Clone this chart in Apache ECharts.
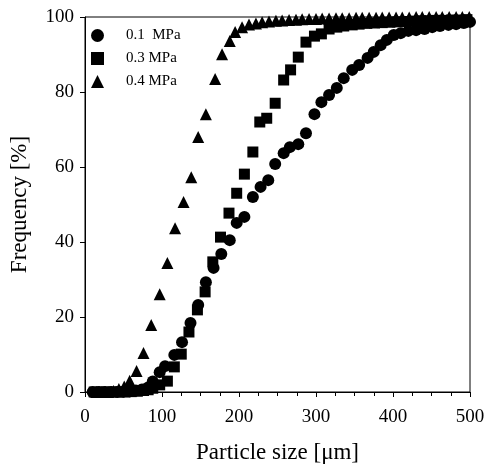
<!DOCTYPE html>
<html>
<head>
<meta charset="utf-8">
<script src="https://cdn.jsdelivr.net/npm/echarts@6/dist/echarts.min.js"></script>
<style>html,body{margin:0;padding:0;background:#fff}#c{width:489px;height:469px}</style>
</head>
<body>
<div id="c"></div>
<script>
// Particle size [µm] and cumulative frequency [%]
const seriesNames = ['0.1  MPa', '0.3 MPa', '0.4 MPa'];

const x01 = [10, 18, 26, 34, 42, 50, 58, 66, 74, 82, 88, 97, 104, 116, 126, 137, 147, 157, 167, 177, 188, 197, 207, 218, 228, 238, 247, 258, 266, 277, 287, 298, 307, 317, 327, 336, 347, 356, 367, 375, 384, 392, 401, 410, 420, 430, 441, 451, 461, 472, 482, 492, 500];
const y01 = [0, 0, 0, 0, 0, 0.1, 0.2, 0.4, 0.7, 1.2, 2.8, 5.3, 6.9, 9.9, 13.3, 18.4, 23.2, 29.3, 33.1, 36.8, 40.5, 45.1, 46.7, 52, 54.7, 56.5, 60.8, 63.7, 65.3, 66.1, 69, 74.1, 77.3, 79.2, 81.1, 83.7, 85.9, 87.2, 89.1, 90.7, 92.5, 93.9, 95.2, 95.7, 96.3, 96.5, 96.8, 97.3, 97.6, 97.9, 98.1, 98.4, 98.7];

const x03 = [12, 20, 28, 36, 44, 52, 60, 68, 76, 82, 88, 97, 107, 116, 125, 135, 146, 156, 166, 176, 187, 197, 207, 218, 227, 236, 247, 258, 267, 277, 287, 298, 307, 317, 327, 336, 347, 356, 366, 376, 386, 396, 406, 416, 426, 436, 446, 456, 466, 476, 486, 496];
const y03 = [0, 0, 0, 0, 0, 0, 0.1, 0.2, 0.4, 0.6, 1, 1.9, 2.9, 6.7, 10.1, 16, 21.9, 26.7, 34.7, 41.3, 47.7, 53, 58.1, 64, 72, 73, 77, 83.2, 85.9, 89.3, 93.3, 94.9, 95.5, 96.8, 97.3, 97.6, 97.9, 98.1, 98.3, 98.4, 98.5, 98.6, 98.7, 98.8, 98.9, 99, 99, 99.1, 99.1, 99.2, 99.2, 99.3];

const x04 = [15, 22, 30, 37, 44, 51, 58, 67, 76, 86, 97, 107, 117, 128, 138, 147, 157, 169, 178, 188, 195, 204, 213, 222, 230, 239, 248, 256, 265, 274, 282, 291, 300, 308, 317, 326, 334, 343, 352, 360, 369, 378, 386, 395, 404, 412, 421, 430, 438, 447, 456, 464, 473, 482, 490, 499];
const y04 = [0, 0, 0, 0.3, 0.8, 1.5, 3, 5.6, 10.4, 17.9, 26.1, 34.4, 43.7, 50.7, 57.3, 68, 74.1, 83.5, 90.1, 93.6, 96, 97.3, 98, 98.3, 98.6, 98.8, 99, 99.1, 99.2, 99.3, 99.4, 99.5, 99.5, 99.6, 99.6, 99.7, 99.7, 99.7, 99.8, 99.8, 99.8, 99.8, 99.9, 99.9, 99.9, 99.9, 99.9, 100, 100, 100, 100, 100, 100, 100, 100, 100];

const xTicks = [0, 100, 200, 300, 400, 500];
const yTicks = [0, 20, 40, 60, 80, 100];

const serif = 'Liberation Serif, Times New Roman, serif';
const pairs = (xs, ys) => xs.map((v, i) => [v, ys[i]]);
const mark = {color: '#000', opacity: 1};

const chart = echarts.init(document.getElementById('c'), null, {renderer: 'canvas'});
chart.setOption({
  animation: false,
  backgroundColor: '#fff',
  grid: {left: 82, right: 19, top: 17, bottom: 77, show: true, borderColor: '#000', borderWidth: 1, backgroundColor: 'transparent'},
  legend: {
    orient: 'vertical', left: 86, top: 23, itemGap: 8, itemWidth: 13, itemHeight: 13,
    textStyle: {fontFamily: serif, fontSize: 15, color: '#000', padding: [0, 0, 0, 17]},
    data: [
      {name: seriesNames[0], icon: 'circle'},
      {name: seriesNames[1], icon: 'rect'},
      {name: seriesNames[2], icon: 'triangle'}
    ]
  },
  xAxis: {
    type: 'value', min: xTicks[0], max: xTicks[xTicks.length - 1], interval: 100,
    name: 'Particle size [\u03bcm]', nameLocation: 'middle', nameGap: 49,
    nameTextStyle: {fontFamily: serif, fontSize: 23, color: '#000'},
    axisLine: {show: true, lineStyle: {color: '#000', width: 1}},
    axisTick: {show: true, inside: false, length: 5, lineStyle: {color: '#000'}},
    minorTick: {show: true, splitNumber: 4, length: 4, lineStyle: {color: '#000'}},
    axisLabel: {fontFamily: serif, fontSize: 19, color: '#000', margin: 16},
    splitLine: {show: false}
  },
  yAxis: {
    type: 'value', min: yTicks[0], max: yTicks[yTicks.length - 1], interval: 20,
    name: 'Frequency [%]', nameLocation: 'middle', nameGap: 54, nameRotate: 90,
    nameTextStyle: {fontFamily: serif, fontSize: 23, color: '#000'},
    axisLine: {show: true, lineStyle: {color: '#000', width: 1}},
    axisTick: {show: true, inside: false, length: 5, lineStyle: {color: '#000'}},
    axisLabel: {fontFamily: serif, fontSize: 19, color: '#000', margin: 11},
    splitLine: {show: false}
  },
  series: [
    {name: seriesNames[0], type: 'scatter', symbol: 'circle', symbolSize: 12, itemStyle: mark, data: pairs(x01, y01)},
    {name: seriesNames[1], type: 'scatter', symbol: 'rect', symbolSize: 11, itemStyle: mark, data: pairs(x03, y03)},
    {name: seriesNames[2], type: 'scatter', symbol: 'triangle', symbolSize: 12, itemStyle: mark, data: pairs(x04, y04)}
  ]
});
</script>
</body>
</html>
